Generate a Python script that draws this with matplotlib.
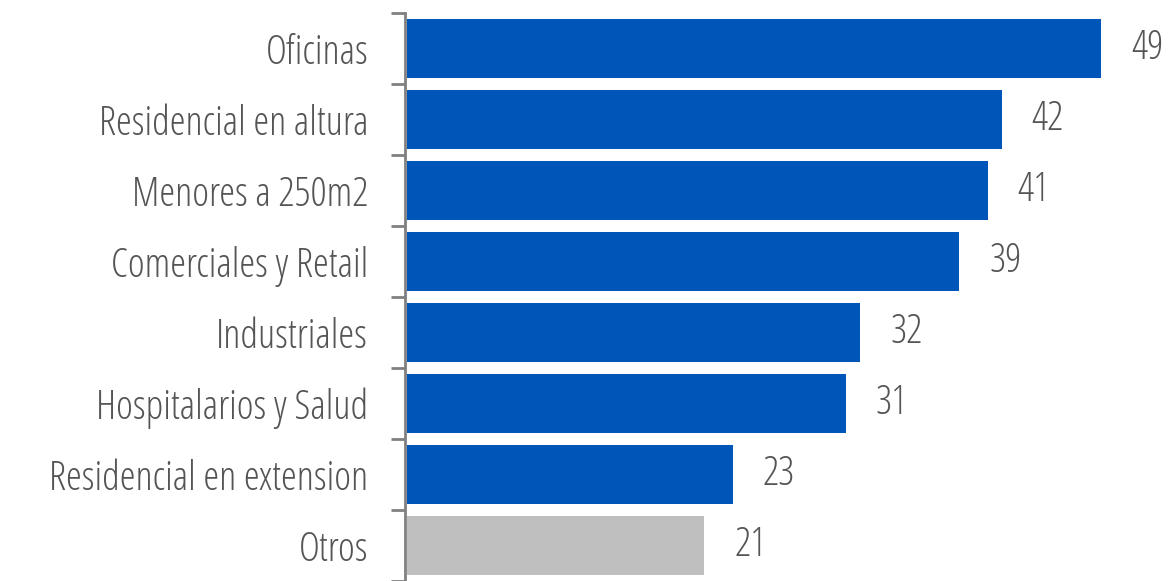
import numpy as np
from matplotlib import pyplot as plt

# data
categories = ['Oficinas', 'Residencial en altura', 'Menores a 250m2', 'Comerciales y Retail',
              'Industriales', 'Hospitalarios y Salud', 'Residencial en extension', 'Otros']
values = [49, 42, 41, 39, 32, 31, 23, 21]
colors = ['#0055b8'] * 7 + ['#bfbfbf']

plt.rcParams['font.family'] = ['Open Sans', 'DejaVu Sans']
plt.rcParams['font.stretch'] = 'condensed'
plt.rcParams['font.weight'] = 300

fig = plt.figure(figsize=(11.73, 5.81), dpi=100)
ax = fig.add_axes([405 / 1173, 0, 768 / 1173, (581 - 13) / 581])

y = np.arange(len(categories))
ax.barh(y, values, height=0.82, color=colors, left=0.15)
ax.set_ylim(len(categories) - 0.5, -0.5)
ax.set_xlim(0, 768 / 14.16)

ax.set_yticks(y)
ax.set_yticklabels(categories, fontsize=29, color='#555555')
ax.tick_params(axis='y', which='major', length=0, pad=26.5)
ax.set_yticks(np.arange(-0.5, len(categories), 1), minor=True)
ax.tick_params(axis='y', which='minor', length=10, width=2, color='#808080')
ax.set_xticks([])

for s in ['top', 'right', 'bottom']:
    ax.spines[s].set_visible(False)
ax.spines['left'].set_color('#808080')
ax.spines['left'].set_linewidth(2)

for yi, v in zip(y, values):
    ax.annotate(str(v), (v + 0.15, yi), xytext=(21.5, 0), textcoords='offset points',
                ha='left', va='center', fontsize=29, color='#555555')

fig.savefig('out.png', dpi=100)
